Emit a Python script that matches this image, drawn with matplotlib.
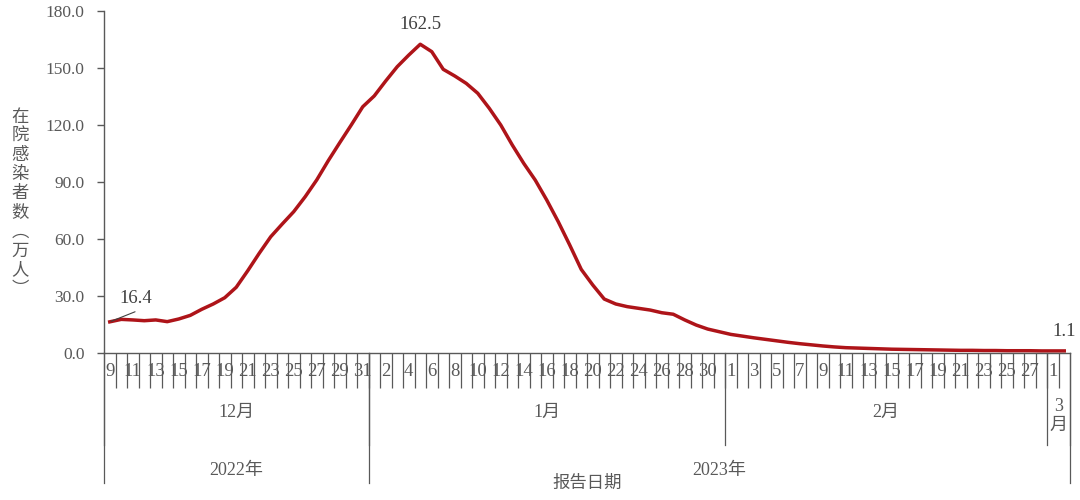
import matplotlib.pyplot as plt

plt.rcParams['font.family'] = ['Liberation Serif', 'Noto Sans CJK SC']

# 报告日期: 2022-12-09 ... 2023-03-02 (每日)
days = list(range(9, 32)) + list(range(1, 32)) + list(range(1, 29)) + [1, 2]

# 在院感染者数（万人）
values = [16.4, 17.7, 17.4, 17.0, 17.4, 16.5, 17.9, 19.8, 23.0, 25.8,
          29.1, 34.6, 43.3, 52.5, 61.2, 67.9, 74.4, 82.3, 91.1, 101.2,
          110.7, 120.0, 129.6, 135.3, 143.2, 150.7, 156.8, 162.5, 158.6, 149.3,
          145.8, 141.9, 136.7, 128.8, 120.0, 109.5, 99.8, 91.0, 80.5, 69.1,
          56.8, 44.0, 35.8, 28.4, 25.8, 24.4, 23.5, 22.6, 21.2, 20.4,
          17.4, 14.7, 12.6, 11.2, 9.8, 8.9, 8.0, 7.2, 6.4, 5.6,
          4.9, 4.3, 3.7, 3.2, 2.8, 2.6, 2.4, 2.2, 2.0, 1.9,
          1.8, 1.7, 1.6, 1.5, 1.4, 1.4, 1.3, 1.3, 1.2, 1.2,
          1.2, 1.1, 1.1, 1.1]

months = ['12月', '1月', '2月', '3\n月']
month_len = [23, 31, 28, 2]
years = ['2022年', '2023年']
year_len = [23, 61]

grey = '#595959'
red = '#AE1419'

fig = plt.figure(figsize=(10.8, 5), dpi=100)
ax = fig.add_axes([104 / 1080, 1 - 353 / 500, 966 / 1080, 342 / 500])

x = list(range(len(values)))
ax.plot(x, values, color=red, lw=2.5, solid_joinstyle='round')

ax.set_xlim(-0.5, len(values) - 0.5)
ax.set_ylim(0, 180)
ax.set_yticks(range(0, 181, 30))
ax.set_yticklabels([f'{v:.1f}' for v in range(0, 181, 30)], fontsize=12.5, color=grey)
ax.tick_params(axis='y', length=5, width=1, color=grey, pad=9)

for s in ['top', 'right']:
    ax.spines[s].set_visible(False)
for s in ['left', 'bottom']:
    ax.spines[s].set_color(grey)
    ax.spines[s].set_linewidth(1)

# day labels every other day, tick lines between categories
ax.set_xticks(x[::2])
ax.set_xticklabels([str(d) for d in days[::2]], fontsize=13.5, color=grey)
ax.tick_params(axis='x', which='major', length=0, pad=7)
ax.set_xticks([i - 0.5 for i in range(1, len(values))], minor=True)
ax.tick_params(axis='x', which='minor', length=25, width=0.9, color=grey, direction='out')

tr = ax.get_xaxis_transform()
ax_h = 342.0

# month separators and labels
start = -0.5
bounds = [start]
for n in month_len:
    bounds.append(bounds[-1] + n)
for b in bounds:
    ax.plot([b, b], [0, -92 / ax_h], transform=tr, color=grey, lw=0.9, clip_on=False)
for i, m in enumerate(months):
    cx = (bounds[i] + bounds[i + 1]) / 2
    if '\n' in m:
        ax.text(cx, -63 / ax_h, m, transform=tr, ha='center', va='center',
                fontsize=13, color=grey, linespacing=1.15)
    else:
        ax.text(cx, -59 / ax_h, m, transform=tr, ha='center', va='center',
                fontsize=13, color=grey)

# year separators and labels
ybounds = [start]
for n in year_len:
    ybounds.append(ybounds[-1] + n)
for b in ybounds:
    ax.plot([b, b], [0, -130 / ax_h], transform=tr, color=grey, lw=0.9, clip_on=False)
for i, yname in enumerate(years):
    cx = (ybounds[i] + ybounds[i + 1]) / 2
    ax.text(cx, -117 / ax_h, yname, transform=tr, ha='center', va='center',
            fontsize=13, color=grey)

# data labels
ax.annotate('', xy=(x[0], values[0]), xytext=(x[0] + 2.2, values[0] + 5.3),
            arrowprops=dict(arrowstyle='-', color='#404040', lw=0.8,
                            shrinkA=0, shrinkB=1))
ax.text(x[0] + 2.3, values[0] + 12.5, f'{values[0]:.1f}', ha='center', va='center',
        fontsize=13.5, color='#404040')
peak = values.index(max(values))
ax.text(peak, values[peak] + 10.5, f'{values[peak]:.1f}', ha='center', va='center',
        fontsize=13.5, color='#404040')
ax.text(x[-1], values[-1] + 6, f'{values[-1]:.1f}', ha='center', va='bottom',
        fontsize=13.5, color='#404040')

# axis titles
fig.text(20 / 1080, 1 - 203 / 500, '在\n院\n感\n染\n者\n数\n︵\n万\n人\n︶',
         ha='center', va='center', fontsize=12.5, color=grey,
         family=['Noto Sans CJK SC'], linespacing=1.08)
fig.text(587 / 1080, 1 - 483 / 500, '报告日期', ha='center', va='center',
         fontsize=12.5, color=grey, family=['Noto Sans CJK SC'])

fig.savefig('out.png', dpi=100, facecolor='white')
